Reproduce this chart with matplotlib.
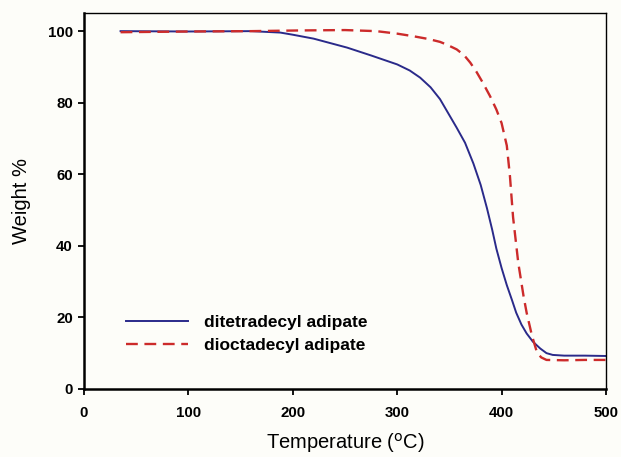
import matplotlib.pyplot as plt

plt.rcParams['font.family'] = ['Liberation Sans', 'DejaVu Sans']

# 数据：热重曲线
temp_c14 = [35, 100, 160, 188, 200, 220, 252, 275, 300, 312, 322, 332, 341, 350, 357,
            365, 373, 380, 386, 391, 395, 400, 405, 410, 414, 419, 424, 430, 437, 443,
            449, 460, 480, 500]
weight_c14 = [100, 99.9, 100, 99.6, 99.0, 97.9, 95.4, 93.2, 90.7, 89.0, 87.0, 84.3, 81.0,
              76.5, 73.0, 68.8, 63.0, 57.0, 50.5, 44.5, 39.2, 33.8, 29.0, 24.8, 21.3,
              18.0, 15.5, 13.2, 11.3, 10.0, 9.5, 9.3, 9.3, 9.2]

temp_c18 = [35, 100, 160, 208, 250, 280, 300, 315, 330, 341, 347, 357, 364, 370, 376,
            382, 389, 395, 400, 405, 408, 411, 416, 421, 424, 429, 434, 438, 443, 460,
            480, 500]
weight_c18 = [99.7, 99.9, 100, 100.2, 100.3, 100.0, 99.3, 98.6, 97.8, 97.0, 96.3, 94.9,
              93.3, 91.2, 88.6, 85.6, 81.8, 78.1, 74.3, 68.0, 59.5, 48.0, 35.2, 26.0,
              21.3, 15.0, 10.1, 8.8, 8.1, 8.0, 8.1, 8.1]

labels = ['ditetradecyl adipate', 'dioctadecyl adipate']

fig = plt.figure(figsize=(6.21, 4.57), dpi=100, facecolor='#fdfdf9')
ax = fig.add_axes([0.1353, 0.149, 0.8405, 0.822])
ax.set_facecolor('#fdfdf9')

ax.plot(temp_c14, weight_c14, color='#2a2a8a', lw=1.4, label=labels[0])
ax.plot(temp_c18, weight_c18, color='#cc2b2b', lw=1.7, ls=(0, (5, 2.8)), label=labels[1])

ax.set_xlim(0, 500)
ax.set_ylim(0, 105)
ax.set_xticks([0, 100, 200, 300, 400, 500])
ax.set_yticks([0, 20, 40, 60, 80, 100])
ax.tick_params(direction='out', length=4, width=1.3, labelsize=10.8,
               top=False, right=False)
ax.tick_params(axis='x', pad=8)
ax.tick_params(axis='y', pad=4)
for lab in ax.get_xticklabels() + ax.get_yticklabels():
    lab.set_fontweight('bold')
for sp in ax.spines.values():
    sp.set_linewidth(1.0)
ax.spines['left'].set_linewidth(1.8)
ax.spines['bottom'].set_linewidth(1.8)

ax.set_xlabel('Temperature ($^{\\mathrm{o}}$C)', fontsize=14.5, labelpad=8)
ax.set_ylabel('Weight %', fontsize=14.5, labelpad=12)

ax.legend(loc='lower left', bbox_to_anchor=(0.05, 0.055), frameon=False,
          prop={'weight': 'bold', 'size': 12.5}, handlelength=3.6,
          handletextpad=0.9, labelspacing=0.45)

plt.savefig('out.png', dpi=100, facecolor=fig.get_facecolor())
